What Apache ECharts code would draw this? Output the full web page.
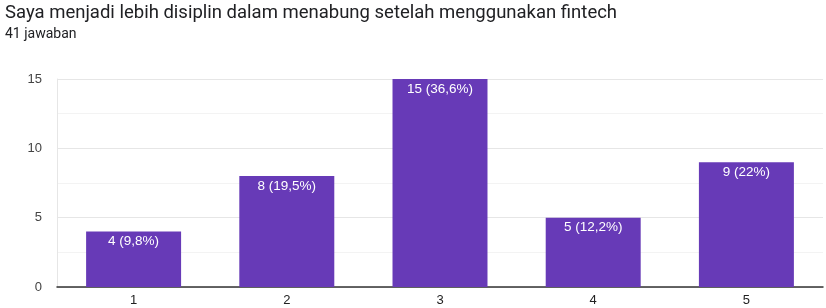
<!DOCTYPE html>
<html><head><meta charset="utf-8">
<script src="https://cdn.jsdelivr.net/npm/echarts@6/dist/echarts.min.js"></script>
<style>html,body{margin:0;padding:0;background:#fff}#c{width:826px;height:308px}</style>
</head><body><div id="c"></div>
<script>
const titleText = 'Saya menjadi lebih disiplin dalam menabung setelah menggunakan fintech';
const subtitleText = '41 jawaban';
const categories = ['1', '2', '3', '4', '5'];
const counts = [4, 8, 15, 5, 9];
const percentLabels = ['9,8%', '19,5%', '36,6%', '12,2%', '22%'];
const yTicks = [0, 5, 10, 15];

const chart = echarts.init(document.getElementById('c'));
chart.setOption({
  animation: false,
  textStyle: { fontFamily: 'Roboto, Arial, sans-serif' },
  title: [{
    text: titleText,
    left: 0, top: -1,
    textStyle: { fontSize: 18.5, fontWeight: 'normal', color: '#202124', fontFamily: 'Roboto' }
  }, {
    text: subtitleText,
    left: 0, top: 22,
    textStyle: { fontSize: 14, fontWeight: 'normal', color: '#202124', fontFamily: 'Roboto' }
  }],
  grid: { left: 57, right: 3, top: 79, bottom: 21, containLabel: false },
  xAxis: {
    type: 'category', data: categories,
    axisLine: { lineStyle: { color: '#333', width: 1.5 } },
    axisTick: { show: false },
    axisLabel: { color: '#222', fontSize: 13, margin: 7, fontFamily: 'Arial' }
  },
  yAxis: {
    type: 'value', min: yTicks[0], max: yTicks[yTicks.length - 1], interval: 5,
    axisLine: { show: true, lineStyle: { color: '#e6e6e6' } },
    axisTick: { show: false },
    axisLabel: { color: '#444', fontSize: 13, margin: 15, fontFamily: 'Arial' },
    splitLine: { lineStyle: { color: '#e6e6e6' } },
    minorTick: { show: false, splitNumber: 2 },
    minorSplitLine: { show: true, lineStyle: { color: '#f3f3f3' } }
  },
  series: [{
    type: 'bar', data: counts, barWidth: '62%',
    itemStyle: { color: '#673ab7' },
    label: {
      show: true, position: 'insideTop', distance: 3, color: '#fff', fontSize: 13.5, fontFamily: 'Arial',
      formatter: p => p.value + ' (' + percentLabels[p.dataIndex] + ')'
    }
  }]
});
</script></body></html>
